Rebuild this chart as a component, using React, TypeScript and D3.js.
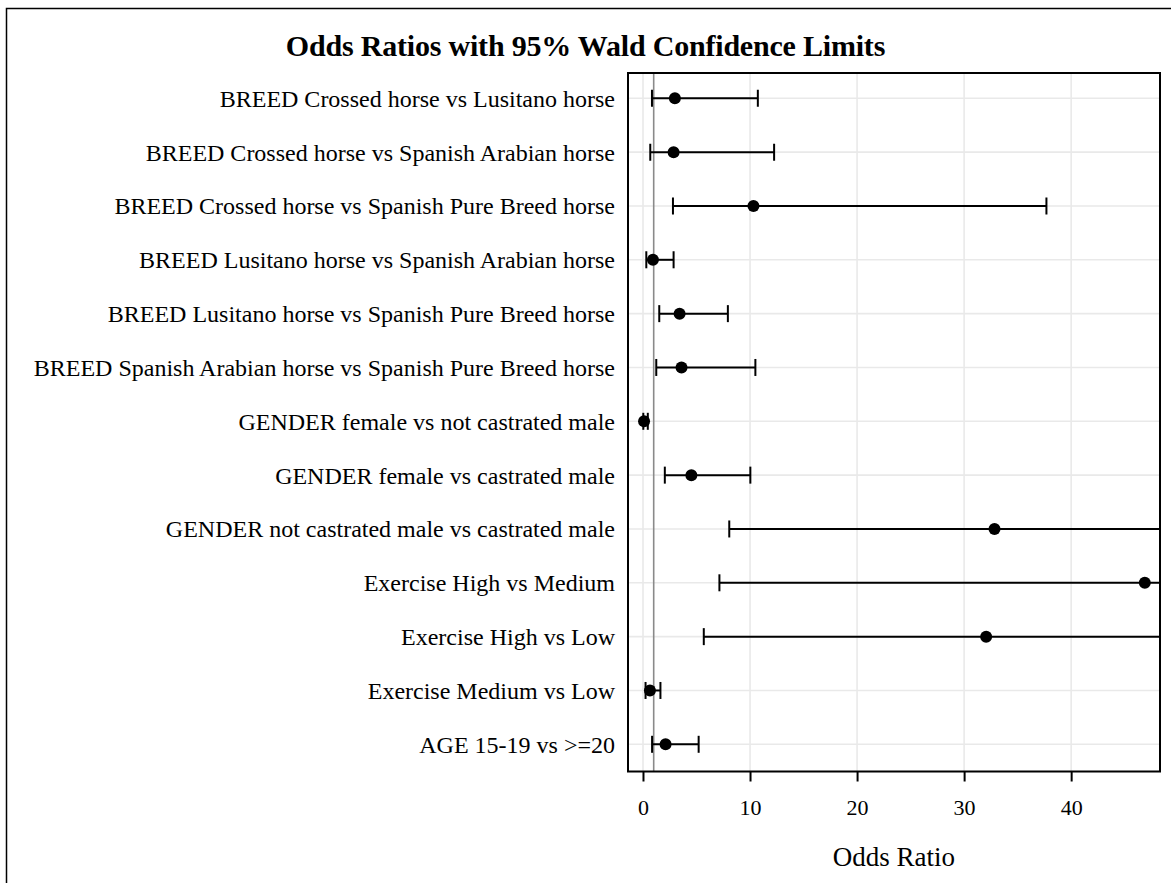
import React, { Component } from 'react';
import * as d3 from 'd3';

const labels = [
    'BREED Crossed horse vs Lusitano horse',
    'BREED Crossed horse vs Spanish Arabian horse',
    'BREED Crossed horse vs Spanish Pure Breed horse',
    'BREED Lusitano horse vs Spanish Arabian horse',
    'BREED Lusitano horse vs Spanish Pure Breed horse',
    'BREED Spanish Arabian horse vs Spanish Pure Breed horse',
    'GENDER female vs not castrated male',
    'GENDER female vs castrated male',
    'GENDER not castrated male vs castrated male',
    'Exercise High vs Medium',
    'Exercise High vs Low',
    'Exercise Medium vs Low',
    'AGE 15-19 vs >=20',
];

const estimates = [2.98, 2.86, 10.32, 0.93, 3.42, 3.6, 0.1, 4.52, 32.84, 46.88, 32.06, 0.65, 2.11];
const lower = [0.84, 0.68, 2.8, 0.31, 1.52, 1.24, 0.03, 2.04, 8.06, 7.14, 5.68, 0.24, 0.85];
// last three upper limits run off the right edge of the plot
const upper = [10.73, 12.25, 37.69, 2.86, 7.93, 10.5, 0.45, 10.03, 133.8, 307.5, 181.2, 1.63, 5.2];

const xTicks = [0, 10, 20, 30, 40];
const refValue = 1;

const FONT = '"Liberation Serif", "Times New Roman", serif';

export default class App extends Component {
    svgRef: React.RefObject<SVGSVGElement | null>;

    constructor(props: any) {
        super(props);
        this.svgRef = React.createRef();
        this.drawGraph = this.drawGraph.bind(this);
    }

    componentDidMount() {
        this.drawGraph();
    }

    drawGraph() {
        const width = 1171, height = 883;
        const plot = { left: 628, right: 1160, top: 73, bottom: 771.5 };

        const svg = d3.select(this.svgRef.current)
            .attr('width', width)
            .attr('height', height)
            .style('font-family', FONT);

        svg.selectAll('*').remove();

        svg.append('rect')
            .attr('width', width)
            .attr('height', height)
            .attr('fill', '#fff');

        // outer frame (runs off right and bottom)
        svg.append('rect')
            .attr('x', 6.5)
            .attr('y', 8.5)
            .attr('width', 1300)
            .attr('height', 1000)
            .attr('fill', 'none')
            .attr('stroke', '#000')
            .attr('stroke-width', 1.5);

        const xScale = d3.scaleLinear()
            .domain([-1.4, 48.3])
            .range([plot.left, plot.right]);

        const yScale = d3.scalePoint<string>()
            .domain(labels)
            .range([98.3, 744.3]);

        svg.append('defs').append('clipPath')
            .attr('id', 'plot-clip')
            .append('rect')
                .attr('x', plot.left)
                .attr('y', plot.top)
                .attr('width', plot.right - plot.left)
                .attr('height', plot.bottom - plot.top);

        const grid = svg.append('g').attr('class', 'grid');

        grid.selectAll('line.v')
            .data(xTicks)
            .enter().append('line')
                .attr('class', 'v')
                .attr('x1', d => xScale(d))
                .attr('x2', d => xScale(d))
                .attr('y1', plot.top)
                .attr('y2', plot.bottom)
                .attr('stroke', '#e9e9e9')
                .attr('stroke-width', 1.6);

        grid.selectAll('line.h')
            .data(labels)
            .enter().append('line')
                .attr('class', 'h')
                .attr('x1', plot.left)
                .attr('x2', plot.right)
                .attr('y1', d => yScale(d) as number)
                .attr('y2', d => yScale(d) as number)
                .attr('stroke', '#e9e9e9')
                .attr('stroke-width', 1.6);

        // reference line at odds ratio 1
        svg.append('line')
            .attr('x1', xScale(refValue))
            .attr('x2', xScale(refValue))
            .attr('y1', plot.top)
            .attr('y2', plot.bottom)
            .attr('stroke', '#8a8a8a')
            .attr('stroke-width', 1.6);

        const rows = labels.map((label, i) => ({
            label,
            est: estimates[i],
            lo: lower[i],
            hi: upper[i],
        }));

        const bars = svg.append('g')
            .attr('clip-path', 'url(#plot-clip)')
            .selectAll('g')
            .data(rows)
            .enter().append('g')
                .attr('transform', d => `translate(0, ${yScale(d.label)})`);

        bars.append('line')
            .attr('x1', d => xScale(d.lo))
            .attr('x2', d => xScale(d.hi))
            .attr('stroke', '#000')
            .attr('stroke-width', 2);

        bars.append('line')
            .attr('x1', d => xScale(d.lo))
            .attr('x2', d => xScale(d.lo))
            .attr('y1', -8.5)
            .attr('y2', 8.5)
            .attr('stroke', '#000')
            .attr('stroke-width', 2);

        bars.append('line')
            .attr('x1', d => xScale(d.hi))
            .attr('x2', d => xScale(d.hi))
            .attr('y1', -8.5)
            .attr('y2', 8.5)
            .attr('stroke', '#000')
            .attr('stroke-width', 2);

        bars.append('circle')
            .attr('cx', d => xScale(d.est))
            .attr('r', 6)
            .attr('fill', '#000');

        // category labels
        svg.append('g')
            .selectAll('text')
            .data(labels)
            .enter().append('text')
                .attr('x', 615)
                .attr('y', d => yScale(d) as number)
                .attr('dy', '0.35em')
                .attr('text-anchor', 'end')
                .attr('font-size', 24)
                .attr('fill', '#000')
                .text(d => d);

        // x axis
        const xAxis = d3.axisBottom(xScale)
            .tickValues(xTicks)
            .tickSize(10)
            .tickPadding(18)
            .tickFormat(d3.format('d'));

        const xAxisGroup = svg.append('g')
            .attr('transform', `translate(0, ${plot.bottom})`)
            .call(xAxis);

        xAxisGroup.select('.domain').remove();
        xAxisGroup.selectAll('.tick line')
            .attr('stroke', '#000')
            .attr('stroke-width', 2);
        xAxisGroup.selectAll('.tick text')
            .attr('font-family', FONT)
            .attr('font-size', 22)
            .attr('fill', '#000');

        // plot frame
        svg.append('rect')
            .attr('x', plot.left)
            .attr('y', plot.top)
            .attr('width', plot.right - plot.left)
            .attr('height', plot.bottom - plot.top)
            .attr('fill', 'none')
            .attr('stroke', '#000')
            .attr('stroke-width', 2);

        svg.append('text')
            .attr('x', width / 2)
            .attr('y', 56)
            .attr('text-anchor', 'middle')
            .attr('font-size', 30)
            .attr('font-weight', 'bold')
            .attr('letter-spacing', -0.2)
            .attr('fill', '#000')
            .text('Odds Ratios with 95% Wald Confidence Limits');

        svg.append('text')
            .attr('x', (plot.left + plot.right) / 2)
            .attr('y', 866)
            .attr('text-anchor', 'middle')
            .attr('font-size', 27)
            .attr('fill', '#000')
            .text('Odds Ratio');
    }

    render() {
        return (
            <div style={{ position: 'absolute', left: 0, top: 0 }}>
                <svg ref={this.svgRef} style={{ display: 'block' }}></svg>
            </div>
        );
    }
}
